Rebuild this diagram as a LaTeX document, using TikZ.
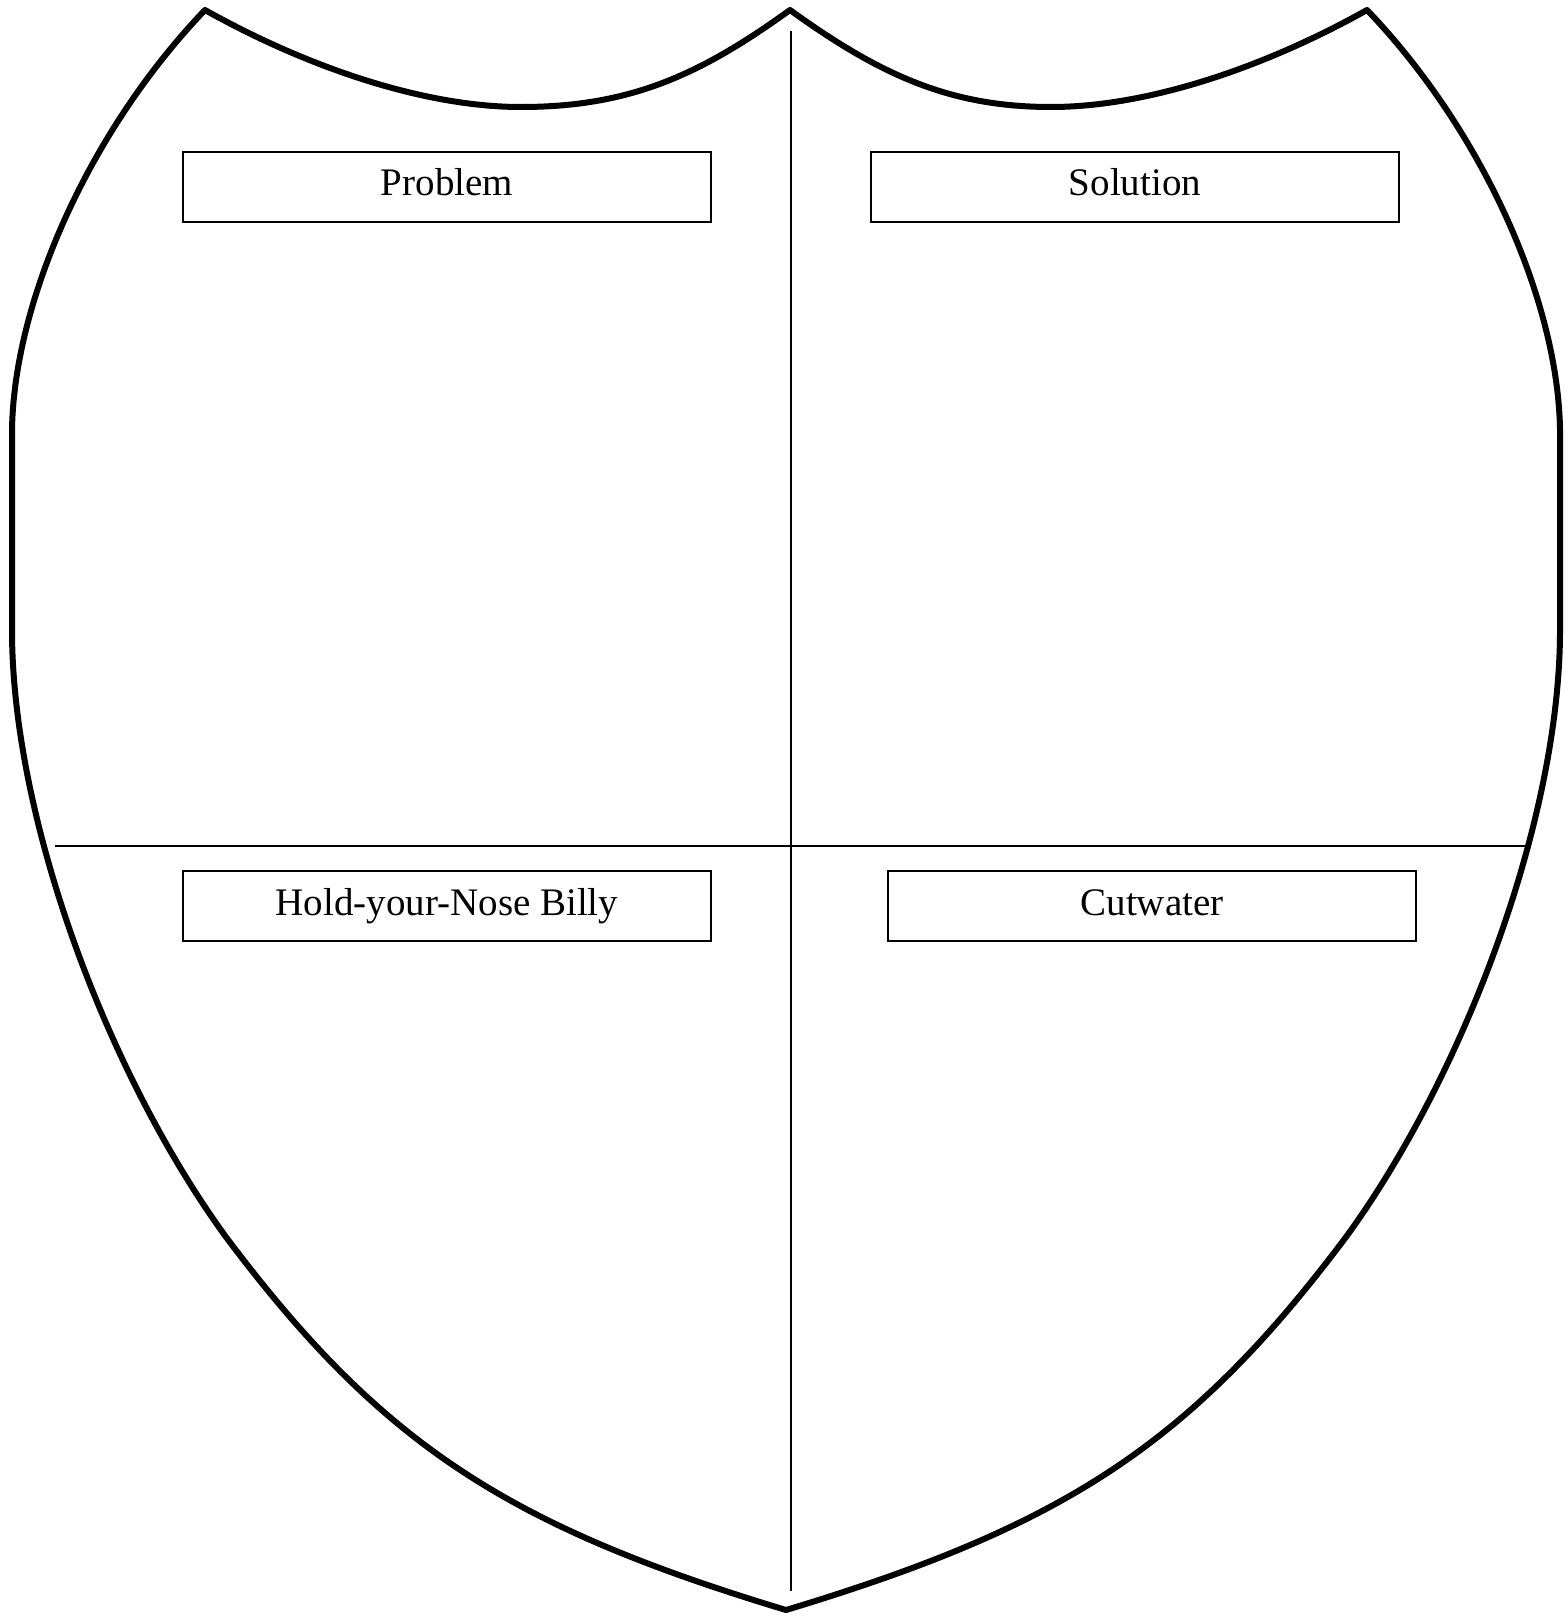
\documentclass[tikz,border=0pt]{standalone}
\usepackage{fontspec}
\setmainfont{Liberation Serif}
\begin{document}
\begin{tikzpicture}[x=1pt,y=-1pt,
  labelbox/.style={draw, line width=2pt, minimum width=528pt, minimum height=70pt, inner sep=0pt,
    text height=27pt, text depth=8.6pt, font=\fontsize{39}{47}\selectfont},
  shield/.style={line width=6pt, line join=round},
  divider/.style={line width=2pt}]
\useasboundingbox (0,0) rectangle (1567,1617);
% shield outline
\draw[shield] (205,10) .. controls (303,65) and (421,107) .. (521,107)
 .. controls (630,107) and (700,75) .. (790,10)
 .. controls (880,75) and (950,107) .. (1051,107)
 .. controls (1151,107) and (1269,65) .. (1367,10)
 .. controls (1482,130) and (1558,300) .. (1560,430)
 -- (1560,630)
 .. controls (1560,820) and (1464,1075) .. (1346,1237)
 .. controls (1190,1445) and (1064,1526) .. (786,1610)
 .. controls (508,1526) and (382,1445) .. (226,1237)
 .. controls (108,1075) and (12,820) .. (12,630)
 -- (12,430)
 .. controls (14,300) and (90,130) .. (205,10) -- cycle;
% dividers
\coordinate (vtop) at (791,31);
\coordinate (vbot) at (791,1591);
\coordinate (hleft) at (55,846);
\coordinate (hright) at (1526,846);
\draw[divider] (vtop) -- (vbot);
\draw[divider] (hleft) -- (hright);
% labels
\node[labelbox] (problem) at (447,186.5) {Problem};
\node[labelbox] (solution) at (1135,186.5) {Solution};
\node[labelbox] (hold) at (447,906) {Hold-your-Nose Billy};
\node[labelbox] (cutwater) at (1152,906) {Cutwater};
\end{tikzpicture}
\end{document}
